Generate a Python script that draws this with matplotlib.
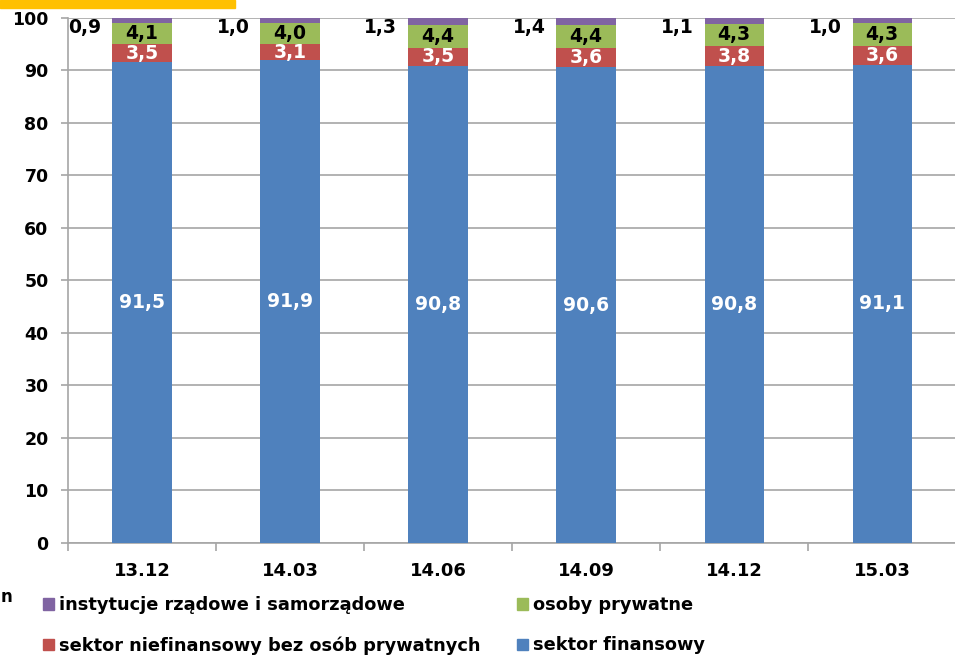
import numpy as np
import matplotlib.pyplot as plt
from matplotlib.patches import Patch, Rectangle

# =========================================================
# DATA
# =========================================================
categories = ["13.12", "14.03", "14.06", "14.09", "14.12", "15.03"]

finansowy = [91.5, 91.9, 90.8, 90.6, 90.8, 91.1]
niefinansowy = [3.5, 3.1, 3.5, 3.6, 3.8, 3.6]
prywatne = [4.1, 4.0, 4.4, 4.4, 4.3, 4.3]
rzadowe = [0.9, 1.0, 1.3, 1.4, 1.1, 1.0]

names = [
    "instytucje rządowe i samorządowe",
    "sektor niefinansowy bez osób prywatnych",
    "osoby prywatne",
    "sektor finansowy",
]

C_BLUE = "#4F81BD"
C_RED = "#C0504D"
C_GREEN = "#9BBB59"
C_PURPLE = "#8064A2"
GRID = "#A6A6A6"

# =========================================================
# PLOT
# =========================================================
plt.rcParams["font.family"] = "DejaVu Sans"
plt.rcParams["font.weight"] = "bold"

fig = plt.figure(figsize=(9.55, 6.59), dpi=100)
ax = fig.add_axes([0.0712, 0.176, 0.93, 0.797])

x = np.arange(len(categories))
w = 0.4

fin = np.array(finansowy)
nf = np.array(niefinansowy)
pr = np.array(prywatne)
rz = np.array(rzadowe)

ax.bar(x, fin, w, color=C_BLUE, zorder=3)
ax.bar(x, nf, w, bottom=fin, color=C_RED, zorder=3)
ax.bar(x, pr, w, bottom=fin + nf, color=C_GREEN, zorder=3)
ax.bar(x, rz, w, bottom=fin + nf + pr, color=C_PURPLE, zorder=3)

fs = 13.5
for i in range(len(x)):
    ax.text(x[i], fin[i] / 2, f"{fin[i]:.1f}".replace(".", ","), color="white",
            ha="center", va="center", fontsize=fs, fontweight="bold", zorder=4)
    ax.text(x[i], fin[i] + nf[i] / 2, f"{nf[i]:.1f}".replace(".", ","), color="white",
            ha="center", va="center", fontsize=fs, fontweight="bold", zorder=4)
    ax.text(x[i], fin[i] + nf[i] + pr[i] / 2, f"{pr[i]:.1f}".replace(".", ","), color="black",
            ha="center", va="center", fontsize=fs, fontweight="bold", zorder=4)
    ax.annotate(f"{rz[i]:.1f}".replace(".", ","), xy=(x[i] - w / 2, 100),
                xytext=(-8, 0), textcoords="offset points",
                ha="right", va="top", fontsize=fs, fontweight="bold", zorder=4)

ax.set_xlim(-0.5, len(categories) - 0.5)
ax.set_ylim(0, 100)
ax.set_yticks(np.arange(0, 101, 10))
ax.yaxis.grid(True, color=GRID, linewidth=1.2, zorder=0)
ax.tick_params(axis="y", length=5, color=GRID, width=1.2, labelsize=12.5, pad=9)

ax.set_xticks(np.arange(-0.5, len(categories), 1.0))
ax.set_xticklabels([])
ax.tick_params(axis="x", which="major", length=6, color=GRID, width=1.2)
ax.set_xticks(x, minor=True)
ax.set_xticklabels(categories, minor=True)
ax.tick_params(axis="x", which="minor", length=0, labelsize=13, pad=14)

for s in ["top", "right"]:
    ax.spines[s].set_visible(False)
for s in ["left", "bottom"]:
    ax.spines[s].set_color(GRID)
    ax.spines[s].set_linewidth(1.2)

handles = [Patch(color=C_PURPLE), Patch(color=C_RED), Patch(color=C_GREEN), Patch(color=C_BLUE)]
fig.legend(handles, names, ncol=2, loc="upper left", bbox_to_anchor=(0.038, 0.106),
           frameon=False, fontsize=12.8, handlelength=0.6, handleheight=0.6,
           handletextpad=0.3, columnspacing=2.05, labelspacing=1.25, borderaxespad=0)

# top-left strip and partly hidden text at the left edge
fig.patches.append(Rectangle((0, 0.988), 0.246, 0.012, transform=fig.transFigure,
                             color="#FFC000", zorder=5))
fig.text(0.001, 0.094, "n", fontsize=12, fontweight="bold", ha="left", va="center")

fig.savefig("out.png", dpi=100)
